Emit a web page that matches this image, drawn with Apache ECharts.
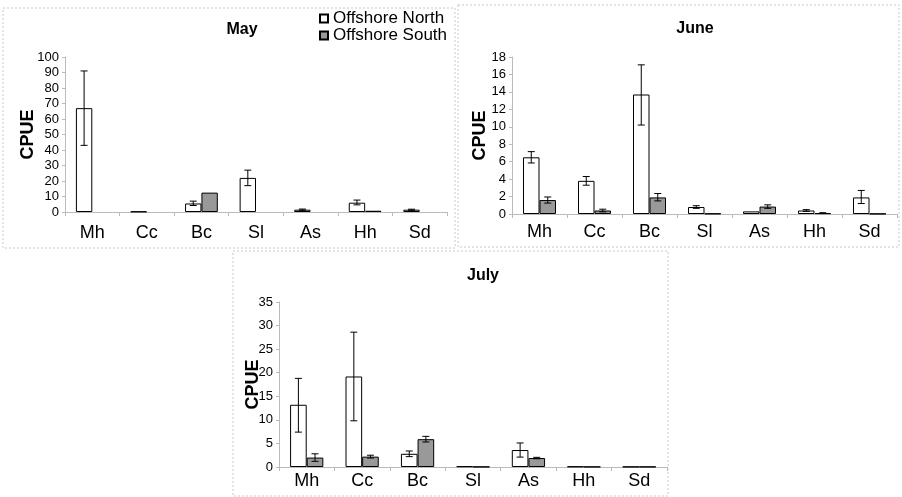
<!DOCTYPE html>
<html>
<head>
<meta charset="utf-8">
<script src="https://cdn.jsdelivr.net/npm/echarts@6/dist/echarts.min.js"></script>
<style>
html,body{margin:0;padding:0;background:#fff;}
#chart{width:902px;height:497px;}
</style>
</head>
<body>
<div id="chart"></div>
<script>
// ---- data ----
const categories = ['Mh','Cc','Bc','Sl','As','Hh','Sd'];
const seriesNames = ['Offshore North','Offshore South'];

const mayNorth = [67, 0.3, 5.5, 22, 1.5, 6, 1.5];
const maySouth = [0, 0, 12.5, 0, 0, 0.8, 0];
const mayNorthErr = [[0,43,91],[2,4.2,7],[3,17,27],[4,1.1,1.9],[5,4.6,7.7],[6,1.1,1.8]];
const maySouthErr = [];

const juneNorth = [6.5, 3.8, 13.7, 0.8, 0.3, 0.4, 1.9];
const juneSouth = [1.6, 0.4, 1.9, 0.05, 0.85, 0.1, 0.03];
const juneNorthErr = [[0,5.85,7.15],[1,3.3,4.3],[2,10.2,17.1],[3,0.65,0.95],[5,0.3,0.5],[6,1.2,2.7]];
const juneSouthErr = [[0,1.25,1.95],[1,0.25,0.55],[2,1.5,2.35],[4,0.65,1.05],[5,0.05,0.15]];

const julyNorth = [13.2, 19.2, 2.8, 0.15, 3.6, 0.1, 0.05];
const julySouth = [2.0, 2.2, 5.9, 0.05, 1.9, 0.05, 0.05];
const julyNorthErr = [[0,7.4,18.8],[1,9.8,28.6],[2,2.2,3.4],[4,2.1,5.1]];
const julySouthErr = [[0,1.2,2.8],[1,1.9,2.5],[2,5.3,6.5],[4,1.75,2.05]];

const yMax = [100, 18, 35];
const yInterval = [10, 2, 5];
const titles = ['May','June','July'];

// ---- layout ----
const FONT = 'Liberation Sans, Arial, sans-serif';
const grids = [
  {left:65, top:57, width:382, height:155},
  {left:512, top:57, width:385, height:157},
  {left:279, top:302, width:388, height:165}
];
const labelMargin = [12, 9, 5];
const nameGap = [28, 23, 17];

const northColor = '#ffffff';
const southColor = '#999999';

function errSeries(data, gi, side, name) {
  return {
    type: 'custom',
    name: name,
    xAxisIndex: gi, yAxisIndex: gi,
    data: data,
    silent: true,
    z: 5,
    renderItem: function (params, api) {
      const band = api.size([1, 0])[0];
      const c = api.coord([api.value(0), 0])[0] + side * 0.15 * band;
      const yl = api.coord([api.value(0), api.value(1)])[1];
      const yh = api.coord([api.value(0), api.value(2)])[1];
      const hw = 3.5;
      const st = {stroke:'#000', lineWidth:1};
      return {
        type: 'group',
        children: [
          {type:'line', shape:{x1:c, y1:yl, x2:c, y2:yh}, style:st},
          {type:'line', shape:{x1:c-hw, y1:yl, x2:c+hw, y2:yl}, style:st},
          {type:'line', shape:{x1:c-hw, y1:yh, x2:c+hw, y2:yh}, style:st}
        ]
      };
    }
  };
}

const nz = arr => arr.map(v => (v === 0 ? null : v));

const northData = [mayNorth, juneNorth, julyNorth];
const southData = [maySouth, juneSouth, julySouth];
const northErr = [mayNorthErr, juneNorthErr, julyNorthErr];
const southErr = [maySouthErr, juneSouthErr, julySouthErr];

const series = [];
const xAxes = [];
const yAxes = [];
const titleOpts = [];
for (let i = 0; i < 3; i++) {
  xAxes.push({
    type: 'category', gridIndex: i, data: categories,
    axisLine: {lineStyle: {color: '#bbbbbb', width: 1}},
    axisTick: {show: true, alignWithLabel: false, length: 4, lineStyle: {color: '#bbbbbb'}},
    axisLabel: {color: '#000', fontFamily: FONT, fontSize: 18, margin: labelMargin[i]}
  });
  yAxes.push({
    type: 'value', gridIndex: i, min: 0, max: yMax[i], interval: yInterval[i],
    name: 'CPUE', nameLocation: 'middle', nameGap: nameGap[i], nameRotate: 90,
    nameMoveOverlap: false,
    nameTextStyle: {color: '#000', fontFamily: FONT, fontSize: 18, fontWeight: 'bold'},
    axisLine: {show: true, lineStyle: {color: '#bbbbbb', width: 1}},
    axisTick: {show: true, length: 3, lineStyle: {color: '#bbbbbb'}},
    axisLabel: {color: '#000', fontFamily: FONT, fontSize: 13, margin: 6},
    splitLine: {show: false}
  });
  series.push({
    type: 'bar', name: seriesNames[0], xAxisIndex: i, yAxisIndex: i,
    data: nz(northData[i]), barWidth: '30%', barGap: '0%',
    itemStyle: {color: northColor, borderColor: '#000', borderWidth: 1}
  });
  series.push({
    type: 'bar', name: seriesNames[1], xAxisIndex: i, yAxisIndex: i,
    data: nz(southData[i]), barWidth: '30%', barGap: '0%',
    itemStyle: {color: southColor, borderColor: '#000', borderWidth: 1}
  });
  series.push(errSeries(northErr[i], i, -1, 'errN' + i));
  series.push(errSeries(southErr[i], i, 1, 'errS' + i));
}

const titleCenters = [[237, 17], [690, 16], [478, 263]];
for (let i = 0; i < 3; i++) {
  titleOpts.push({
    text: titles[i], left: titleCenters[i][0], top: titleCenters[i][1], textAlign: 'center',
    textStyle: {fontFamily: FONT, fontSize: 16, fontWeight: 'bold', color: '#000'}
  });
}

const dash = {stroke: '#c8c8c8', lineWidth: 1, lineDash: [2, 2], fill: 'none'};

const option = {
  backgroundColor: '#fff',
  animation: false,
  title: titleOpts,
  legend: {
    data: seriesNames, orient: 'vertical', left: 314, top: 5,
    itemWidth: 8, itemHeight: 8, itemGap: 0, icon: 'rect',
    textStyle: {fontFamily: FONT, fontSize: 17, color: '#000'}
  },
  grid: grids,
  xAxis: xAxes,
  yAxis: yAxes,
  series: series,
  graphic: [
    {type:'rect', shape:{x:3, y:8, width:452, height:240}, style:dash, silent:true},
    {type:'rect', shape:{x:458, y:5, width:441, height:242}, style:dash, silent:true},
    {type:'rect', shape:{x:233, y:251, width:435, height:245}, style:dash, silent:true}
  ]
};

const chart = echarts.init(document.getElementById('chart'), null, {renderer: 'canvas'});
chart.setOption(option);
</script>
</body>
</html>
